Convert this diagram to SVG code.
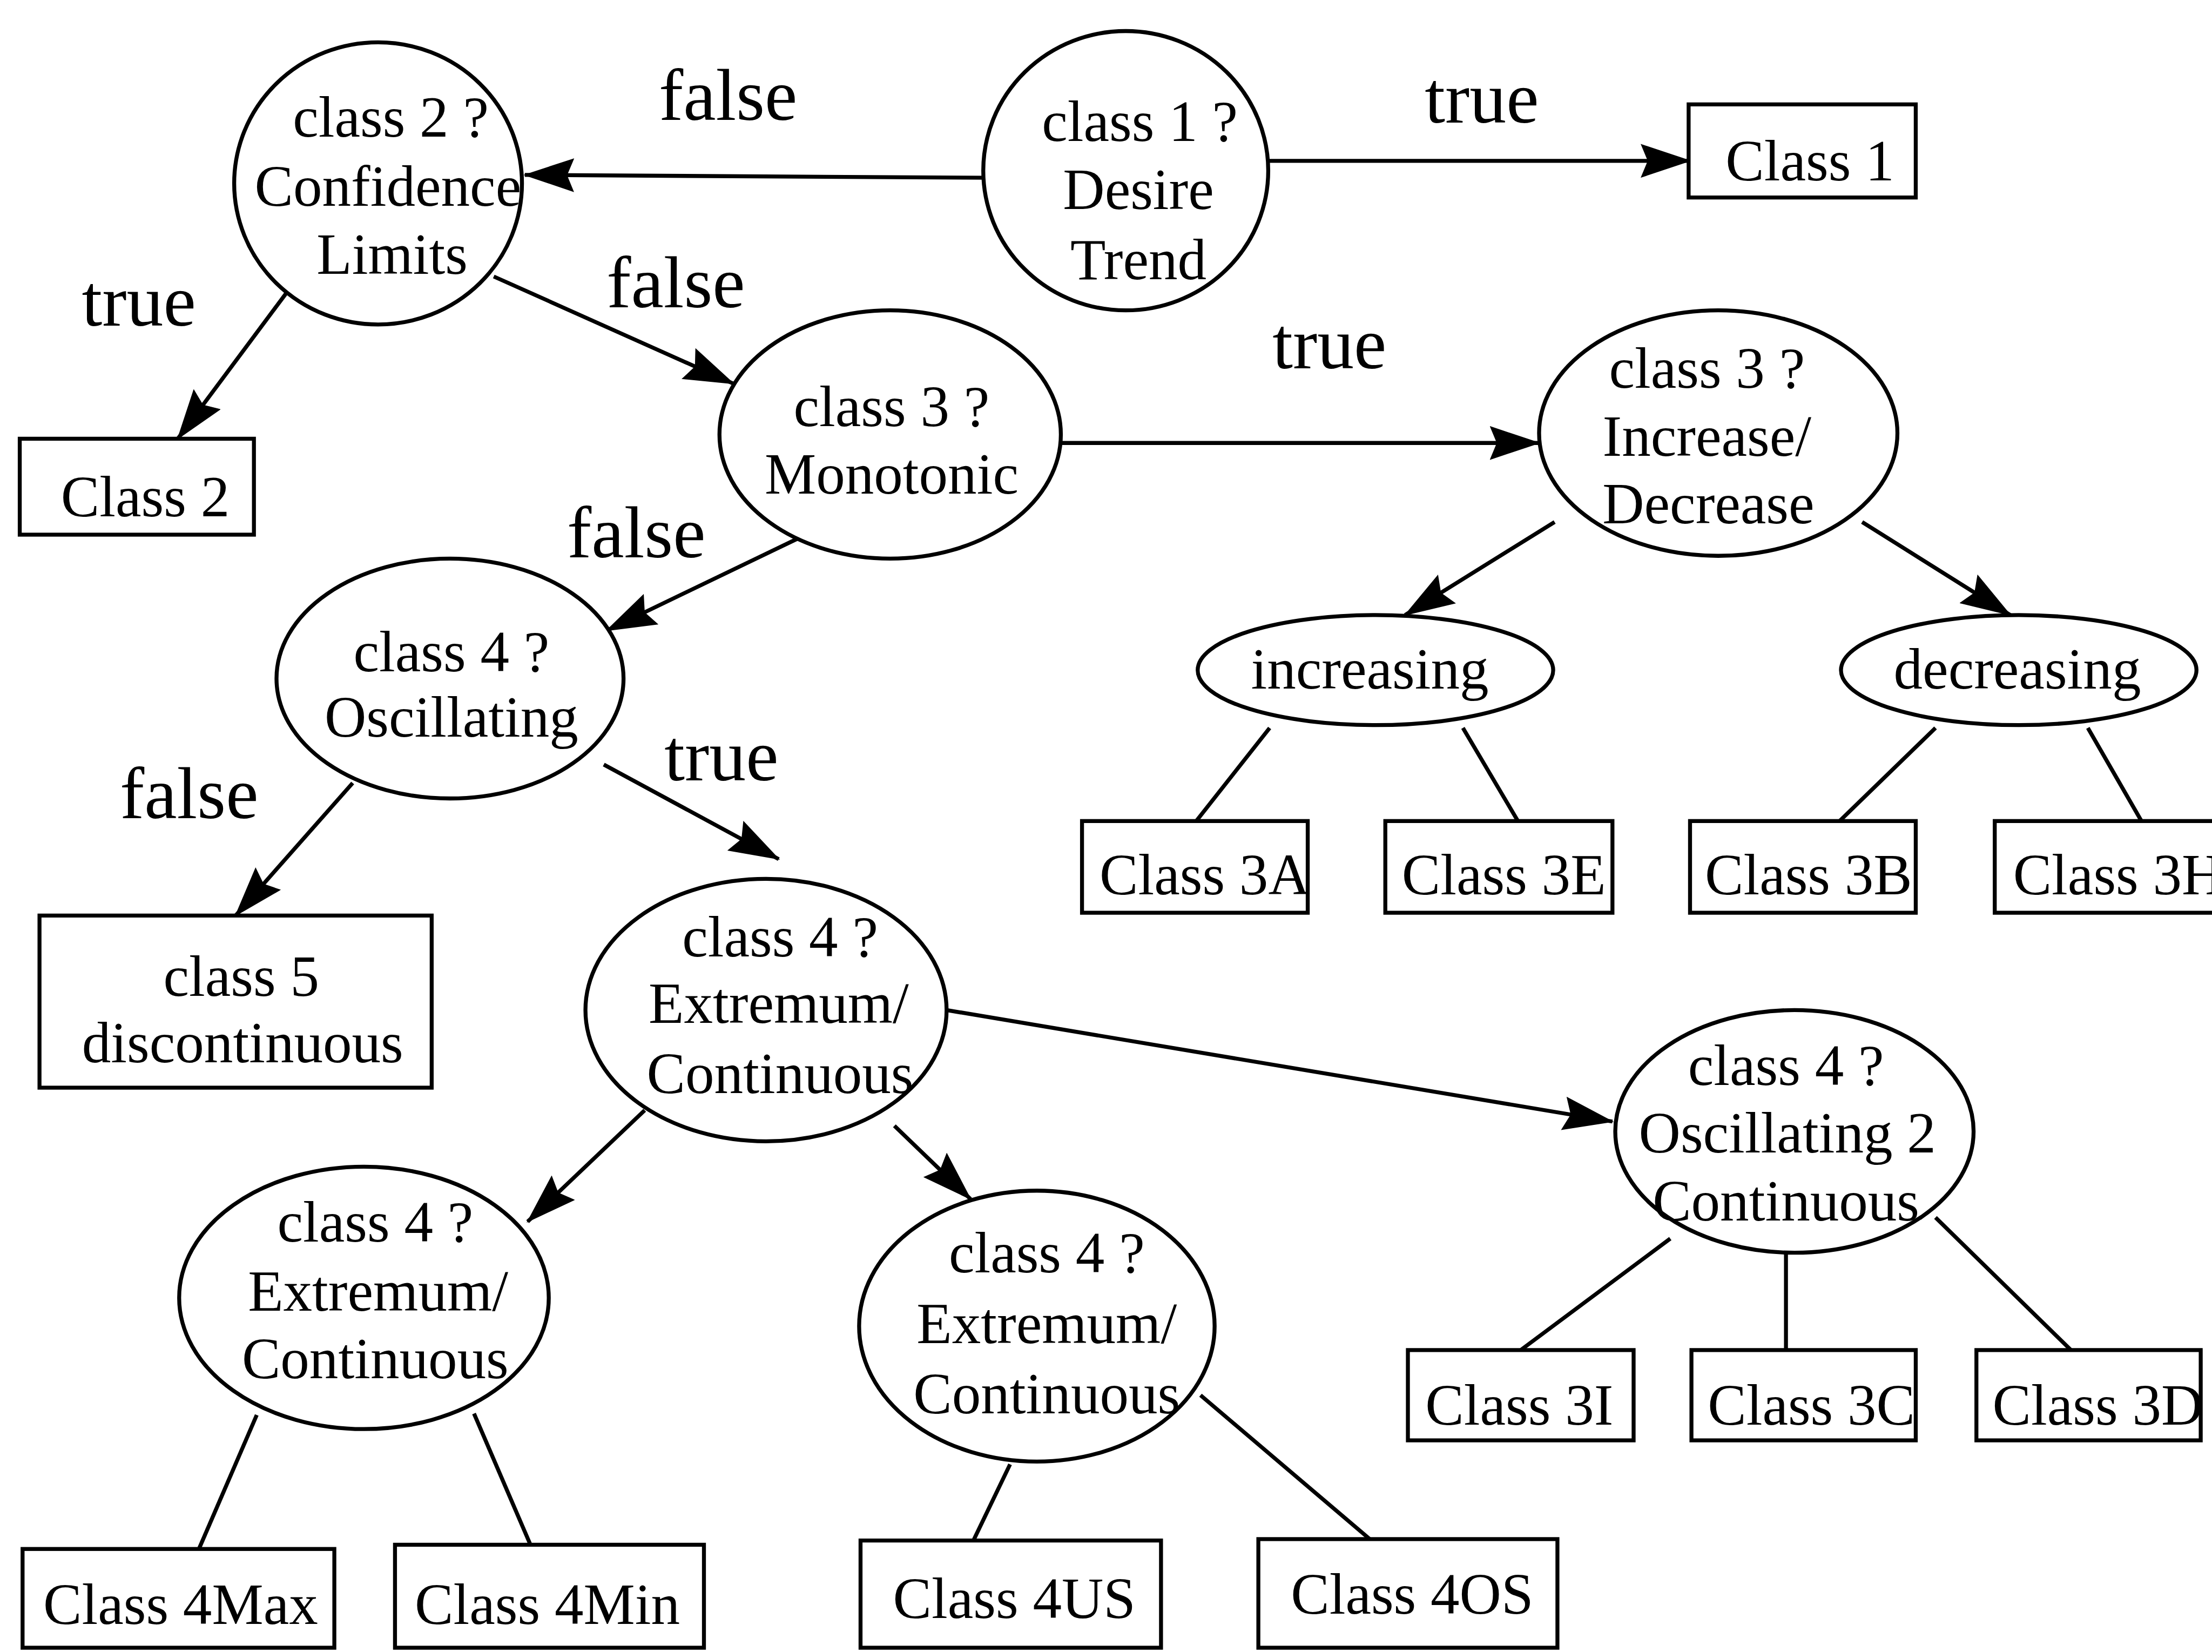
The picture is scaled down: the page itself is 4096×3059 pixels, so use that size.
<svg xmlns="http://www.w3.org/2000/svg" width="4096" height="3059" viewBox="0 0 4096 3059">
  <defs>
    <marker id="arrow" markerUnits="userSpaceOnUse" markerWidth="36" markerHeight="24" refX="35" refY="12" orient="auto">
      <path d="M0,0 L36,12 L0,24 L5,12 z" fill="#000"/>
    </marker>
    <style>
      .shape { fill: #fff; stroke: #000; stroke-width: 2.8; }
      .edge { fill: none; stroke: #000; stroke-width: 2.8; }
      .arr { marker-end: url(#arrow); }
      .t { font-family: "Liberation Serif", "Times New Roman", serif; font-size: 41px; fill: #000; text-anchor: middle; }
      .lbl { font-family: "Liberation Serif", "Times New Roman", serif; font-size: 52px; fill: #000; }
    </style>
  </defs>
  <rect width="4096" height="3059" fill="#fff"/>
  <g transform="scale(2.612245)">
    <!-- connectors -->
    <g id="connectors">
      <line class="edge arr" x1="699" y1="126" x2="372" y2="124"/>
      <line class="edge arr" x1="899" y1="114" x2="1198" y2="114"/>
      <line class="edge arr" x1="205" y1="205" x2="126" y2="311"/>
      <line class="edge arr" x1="350" y1="196" x2="520" y2="272"/>
      <line class="edge arr" x1="751" y1="314" x2="1091" y2="314"/>
      <line class="edge arr" x1="565" y1="382" x2="430" y2="447"/>
      <line class="edge arr" x1="1102" y1="370" x2="996" y2="436"/>
      <line class="edge arr" x1="1320" y1="370" x2="1425" y2="436"/>
      <line class="edge arr" x1="250" y1="555" x2="167" y2="649"/>
      <line class="edge arr" x1="428" y1="542" x2="552" y2="609"/>
      <line class="edge arr" x1="457" y1="787" x2="374" y2="866"/>
      <line class="edge arr" x1="634" y1="798" x2="688" y2="850"/>
      <line class="edge arr" x1="671" y1="716" x2="1143" y2="795"/>
      <line class="edge" x1="900" y1="516" x2="848" y2="582"/>
      <line class="edge" x1="1037" y1="516" x2="1076" y2="582"/>
      <line class="edge" x1="1372" y1="516" x2="1304" y2="582"/>
      <line class="edge" x1="1480" y1="516" x2="1518" y2="582"/>
      <line class="edge" x1="1184" y1="878" x2="1078" y2="957"/>
      <line class="edge" x1="1266" y1="888" x2="1266" y2="957"/>
      <line class="edge" x1="1372" y1="863" x2="1468" y2="957"/>
      <line class="edge" x1="182" y1="1003" x2="141" y2="1098"/>
      <line class="edge" x1="336" y1="1002" x2="376" y2="1095"/>
      <line class="edge" x1="716" y1="1038" x2="690" y2="1092"/>
      <line class="edge" x1="851" y1="989" x2="971" y2="1091"/>
    </g>

    <!-- edge labels -->
    <g id="edge-labels">
      <text class="lbl" x="467" y="85">false</text>
      <text class="lbl" x="1010" y="87">true</text>
      <text class="lbl" x="58" y="231">true</text>
      <text class="lbl" x="430" y="218">false</text>
      <text class="lbl" x="902" y="261">true</text>
      <text class="lbl" x="402" y="395">false</text>
      <text class="lbl" x="85" y="580">false</text>
      <text class="lbl" x="471" y="553">true</text>
    </g>

    <!-- decision nodes -->
    <g id="q-class1">
      <ellipse class="shape" cx="798" cy="121" rx="101" ry="99"/>
      <text class="t" x="808" y="100">class 1 ?</text>
      <text class="t" x="807" y="148">Desire</text>
      <text class="t" x="807" y="198">Trend</text>
    </g>
    <g id="q-class2">
      <ellipse class="shape" cx="268" cy="130" rx="102" ry="100"/>
      <text class="t" x="277" y="97">class 2 ?</text>
      <text class="t" x="275" y="146">Confidence</text>
      <text class="t" x="278" y="194">Limits</text>
    </g>
    <g id="q-monotonic">
      <ellipse class="shape" cx="631" cy="308" rx="121" ry="88"/>
      <text class="t" x="632" y="302">class 3 ?</text>
      <text class="t" x="632" y="350">Monotonic</text>
    </g>
    <g id="q-incdec">
      <ellipse class="shape" cx="1218" cy="307" rx="127" ry="87"/>
      <text class="t" x="1210" y="275">class 3 ?</text>
      <text class="t" x="1210" y="323">Increase/</text>
      <text class="t" x="1211" y="371">Decrease</text>
    </g>
    <g id="increasing">
      <ellipse class="shape" cx="975" cy="475" rx="126" ry="39"/>
      <text class="t" x="971" y="488">increasing</text>
    </g>
    <g id="decreasing">
      <ellipse class="shape" cx="1431" cy="475" rx="126" ry="39"/>
      <text class="t" x="1430" y="488">decreasing</text>
    </g>
    <g id="q-oscillating">
      <ellipse class="shape" cx="319" cy="481" rx="123" ry="85"/>
      <text class="t" x="320" y="476">class 4 ?</text>
      <text class="t" x="320" y="522">Oscillating</text>
    </g>
    <g id="q-extremum">
      <ellipse class="shape" cx="543" cy="716" rx="128" ry="93"/>
      <text class="t" x="553" y="678">class 4 ?</text>
      <text class="t" x="552" y="725">Extremum/</text>
      <text class="t" x="553" y="775">Continuous</text>
    </g>
    <g id="q-extremum-left">
      <ellipse class="shape" cx="258" cy="920" rx="131" ry="93"/>
      <text class="t" x="266" y="880">class 4 ?</text>
      <text class="t" x="268" y="929">Extremum/</text>
      <text class="t" x="266" y="977">Continuous</text>
    </g>
    <g id="q-extremum-right">
      <ellipse class="shape" cx="735" cy="940" rx="126" ry="96"/>
      <text class="t" x="742" y="902">class 4 ?</text>
      <text class="t" x="742" y="952">Extremum/</text>
      <text class="t" x="742" y="1002">Continuous</text>
    </g>
    <g id="q-oscillating2">
      <ellipse class="shape" cx="1272" cy="802" rx="127" ry="86"/>
      <text class="t" x="1266" y="769">class 4 ?</text>
      <text class="t" x="1267" y="817">Oscillating 2</text>
      <text class="t" x="1266" y="865">Continuous</text>
    </g>

    <!-- leaf classes -->
    <g id="c1">
      <rect class="shape" x="1197" y="74" width="161" height="66"/>
      <text class="t" x="1283" y="128">Class 1</text>
    </g>
    <g id="c2">
      <rect class="shape" x="14" y="311" width="166" height="68"/>
      <text class="t" x="103" y="366">Class 2</text>
    </g>
    <g id="c5">
      <rect class="shape" x="28" y="649" width="278" height="122"/>
      <text class="t" x="171" y="706">class 5</text>
      <text class="t" x="172" y="753">discontinuous</text>
    </g>
    <g id="c3a">
      <rect class="shape" x="767" y="582" width="160" height="65"/>
      <text class="t" x="854" y="634">Class 3A</text>
    </g>
    <g id="c3e">
      <rect class="shape" x="982" y="582" width="161" height="65"/>
      <text class="t" x="1066" y="634">Class 3E</text>
    </g>
    <g id="c3b">
      <rect class="shape" x="1198" y="582" width="160" height="65"/>
      <text class="t" x="1282" y="634">Class 3B</text>
    </g>
    <g id="c3h">
      <rect class="shape" x="1414" y="582" width="170" height="65"/>
      <text class="t" x="1427" y="634" style="text-anchor:start">Class 3H</text>
    </g>
    <g id="c3i">
      <rect class="shape" x="998" y="957" width="160" height="64"/>
      <text class="t" x="1077" y="1010">Class 3I</text>
    </g>
    <g id="c3c">
      <rect class="shape" x="1199" y="957" width="159" height="64"/>
      <text class="t" x="1284" y="1010">Class 3C</text>
    </g>
    <g id="c3d">
      <rect class="shape" x="1401" y="957" width="159" height="64"/>
      <text class="t" x="1487" y="1010">Class 3D</text>
    </g>
    <g id="c4max">
      <rect class="shape" x="16" y="1098" width="221" height="70"/>
      <text class="t" x="128" y="1151">Class 4Max</text>
    </g>
    <g id="c4min">
      <rect class="shape" x="280" y="1095" width="219" height="73"/>
      <text class="t" x="388" y="1151">Class 4Min</text>
    </g>
    <g id="c4us">
      <rect class="shape" x="610" y="1092" width="213" height="76"/>
      <text class="t" x="719" y="1147">Class 4US</text>
    </g>
    <g id="c4os">
      <rect class="shape" x="892" y="1091" width="212" height="77"/>
      <text class="t" x="1001" y="1144">Class 4OS</text>
    </g>
  </g>
</svg>
